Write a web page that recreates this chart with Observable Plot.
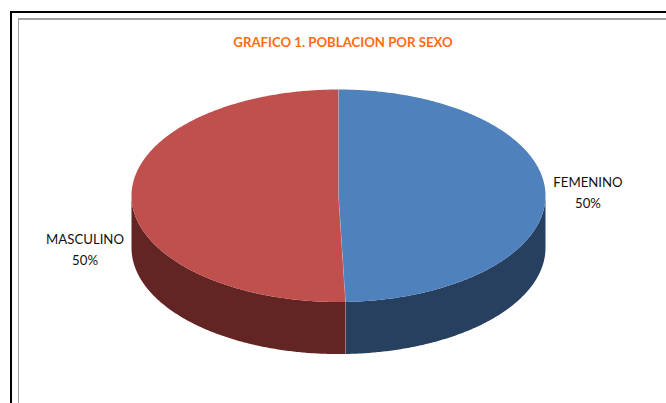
<!DOCTYPE html>
<html><head><meta charset="utf-8">
<script src="https://cdn.jsdelivr.net/npm/d3@7"></script>
<script src="https://cdn.jsdelivr.net/npm/@observablehq/plot@0.6"></script>
<style>
html,body{margin:0;padding:0;background:#fff;overflow:hidden}
#page{position:relative;width:666px;height:403px;overflow:hidden}
#black{position:absolute;left:10px;top:11px;width:700px;height:500px;border-left:2.5px solid #000;border-top:2.5px solid #000}
#gray{position:absolute;left:18px;top:18px;width:700px;height:383px;border:2px solid #a0a0a0;border-width:2px 0 1.5px 1.5px;border-bottom-color:#c0c0c0}
#title{position:absolute;left:0;top:34px;width:686px;text-align:center;font:bold 13.2px Lato,sans-serif;color:#FF6A13}
#chart{position:absolute;left:0;top:0}
svg{display:block;background:transparent!important}
</style></head><body>
<div id="page"><div id="black"></div><div id="gray"></div>
<div id="title">GRAFICO 1. POBLACION POR SEXO</div>
<div id="chart"></div></div>
<script>
const categories = ["FEMENINO", "MASCULINO"];
const shares = [49.46, 50.54];
const percentLabels = ["50%", "50%"];
const topColors = ["#4F81BD", "#C0504D"];
const sideColors = ["#274060", "#632523"];

const depth = 0.49, step = Math.PI / 360;
const arcs = d3.pie().sort(null)(shares);
const px = a => Math.sin(a), py = a => -Math.cos(a);
const sweep = (a0, a1) => d3.range(0, Math.ceil((a1 - a0) / step) + 1)
  .map(i => Math.min(a1, a0 + i * step));

const marks = [];
arcs.forEach((arc, i) => {
  // Side wall: only the part of the slice that faces the viewer
  const a0 = Math.max(arc.startAngle, Math.PI / 2), a1 = Math.min(arc.endAngle, 3 * Math.PI / 2);
  if (a1 > a0) {
    const s = sweep(a0, a1);
    const wall = [...s.map(a => [px(a), py(a)]), ...s.reverse().map(a => [px(a), py(a) + depth])];
    marks.push(Plot.line(wall, {x: "0", y: "1", fill: sideColors[i], stroke: "none"}));
  }
});
arcs.forEach((arc, i) => {
  const top = [[0, 0], ...sweep(arc.startAngle, arc.endAngle).map(a => [px(a), py(a)])];
  marks.push(Plot.line(top, {x: "0", y: "1", fill: topColors[i], stroke: "none"}));
});
// Pale seams where the slices meet
const seam = arcs[0].endAngle;
marks.push(Plot.line([[0, -1], [0, 0], [px(seam), py(seam)], [px(seam), py(seam) + depth]],
  {x: "0", y: "1", stroke: "#fff", strokeOpacity: 0.25, strokeWidth: 0.7}));

const labels = arcs.map((arc, i) => {
  const mid = (arc.startAngle + arc.endAngle) / 2;
  return {x: px(mid), y: py(mid), text: categories[i] + "\n" + percentLabels[i], i};
});
marks.push(Plot.text(labels.filter(d => d.i === 0), {x: "x", y: "y", text: "text", dx: 42.5, dy: -3, lineHeight: 1.6, fill: "#111", fontSize: 13.2, fontFamily: "Lato, sans-serif"}));
marks.push(Plot.text(labels.filter(d => d.i === 1), {x: "x", y: "y", text: "text", dx: -46.5, dy: 50, lineHeight: 1.6, fill: "#111", fontSize: 13.2, fontFamily: "Lato, sans-serif"}));

const chart = Plot.plot({
  width: 666, height: 403, margin: 0,
  x: {domain: [-1, 1], range: [131, 545], axis: null},
  y: {domain: [-1, 1], range: [89, 301.5], axis: null},
  marks
});
document.getElementById("chart").append(chart);
</script></body></html>
